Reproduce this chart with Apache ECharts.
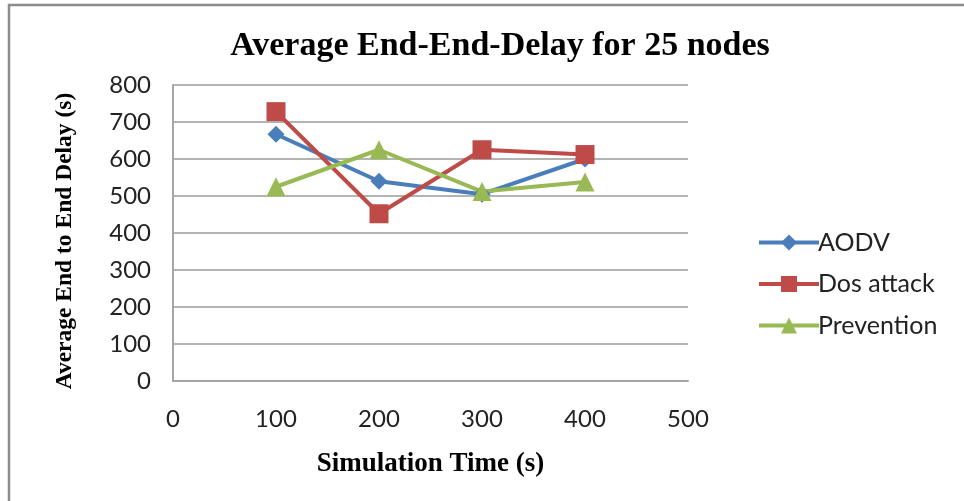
<!DOCTYPE html>
<html>
<head>
<meta charset="utf-8">
<title>Average End-End-Delay</title>
<script src="https://cdn.jsdelivr.net/npm/echarts@6/dist/echarts.min.js"></script>
<style>
  html, body { margin: 0; padding: 0; background: #fff; }
  #chart { width: 964px; height: 501px; }
</style>
</head>
<body>
<div id="chart"></div>
<script>
// values
const simTime = [100, 200, 300, 400]
const aodv = [667, 540, 505, 600]
const dosAttack = [728, 452, 625, 612]
const prevention = [525, 625, 512, 538]
const legendNames = ['AODV', 'Dos attack', 'Prevention']

const tickFont = 'Lato, "Open Sans", sans-serif'
const serifFont = '"Liberation Serif", "DejaVu Serif", serif'

function pairs (xs, ys) {
  return xs.map((x, i) => [x, ys[i]])
}

const dom = echarts.init(document.getElementById('chart'))
const option = {
  backgroundColor: '#fff',
  animation: false,
  title: {
    text: 'Average End-End-Delay for 25 nodes',
    left: 495,
    top: 24,
    textAlign: 'center',
    textStyle: {
      fontFamily: serifFont,
      fontWeight: 'bold',
      fontSize: 34,
      color: '#000'
    }
  },
  legend: {
    data: legendNames,
    orient: 'vertical',
    left: 752,
    top: 225,
    itemWidth: 60,
    itemHeight: 20,
    itemGap: 16.5,
    lineStyle: { width: 4 },
    textStyle: {
      fontFamily: tickFont,
      fontSize: 25,
      color: '#222',
      padding: [0, 0, 0, -6]
    }
  },
  grid: {
    left: 173,
    right: 276,
    top: 85,
    bottom: 120
  },
  xAxis: {
    type: 'value',
    min: 0,
    max: 500,
    interval: 100,
    name: 'Simulation Time (s)',
    nameLocation: 'middle',
    nameGap: 70,
    nameTextStyle: {
      fontFamily: serifFont,
      fontWeight: 'bold',
      fontSize: 27,
      color: '#000'
    },
    axisLine: { lineStyle: { color: '#a6a6a6', width: 2 } },
    axisTick: { show: false },
    axisLabel: {
      fontFamily: tickFont,
      fontSize: 24,
      color: '#222',
      margin: 26
    },
    splitLine: { show: false }
  },
  yAxis: {
    type: 'value',
    min: 0,
    max: 800,
    interval: 100,
    name: 'Average End to End Delay (s)',
    nameLocation: 'middle',
    nameGap: 96,
    nameTextStyle: {
      fontFamily: serifFont,
      fontWeight: 'bold',
      fontSize: 23.5,
      color: '#000',
      padding: [0, 16, 0, 0]
    },
    axisLine: { show: true, lineStyle: { color: '#a6a6a6', width: 2 } },
    axisTick: { show: false },
    axisLabel: {
      fontFamily: tickFont,
      fontSize: 24,
      color: '#222',
      margin: 22
    },
    splitLine: { lineStyle: { color: '#b3b3b3', width: 2 } }
  },
  series: [
    {
      name: 'AODV',
      type: 'line',
      data: pairs(simTime, aodv),
      symbol: 'diamond',
      symbolSize: 17,
      color: '#4a7ebb',
      lineStyle: { width: 4 }
    },
    {
      name: 'Dos attack',
      type: 'line',
      data: pairs(simTime, dosAttack),
      symbol: 'rect',
      symbolSize: 19,
      color: '#be4b48',
      lineStyle: { width: 4 }
    },
    {
      name: 'Prevention',
      type: 'line',
      data: pairs(simTime, prevention),
      symbol: 'triangle',
      symbolSize: 19,
      color: '#98b954',
      lineStyle: { width: 4 }
    }
  ],
  graphic: [
    {
      type: 'polyline',
      shape: { points: [[9, 501], [9, 5], [964, 5]] },
      style: { stroke: '#8c8c8c', lineWidth: 2.5, fill: null }
    }
  ]
}
dom.setOption(option)
</script>
</body>
</html>
